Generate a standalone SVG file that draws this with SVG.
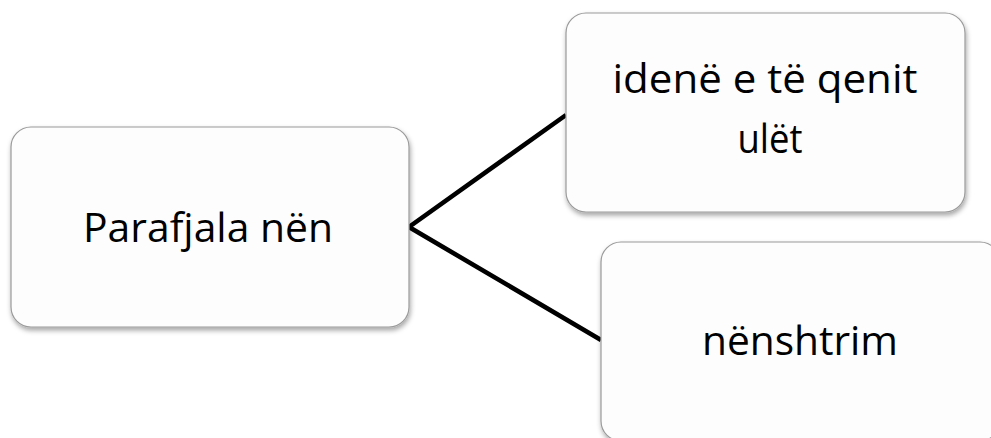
<svg xmlns="http://www.w3.org/2000/svg" width="991" height="438" viewBox="0 0 991 438">
  <defs>
    <filter id="shadow" x="-10%" y="-10%" width="125%" height="130%">
      <feDropShadow dx="1" dy="3" stdDeviation="2.5" flood-color="#000" flood-opacity="0.35"/>
    </filter>
    <style>
      .box { fill: #fdfdfd; stroke: #9a9a9a; stroke-width: 1.2; filter: url(#shadow); }
      .label { font-family: "Open Sans", "Noto Sans", "Liberation Sans", sans-serif; font-size: 40px; fill: #000; text-anchor: middle; }
      .link { fill: none; stroke: #000; stroke-width: 4.6; stroke-linejoin: miter; }
    </style>
  </defs>
  <rect width="991" height="438" fill="#fff"/>

  <g id="connectors">
    <polyline class="link" points="566,115 409,227 601,340"/>
  </g>

  <g id="node-parafjala">
    <rect class="box" x="11" y="127" width="398" height="200" rx="20" ry="20"/>
    <text class="label" x="208" y="242" textLength="250" lengthAdjust="spacingAndGlyphs">Parafjala nën</text>
  </g>

  <g id="node-idene">
    <rect class="box" x="566" y="13" width="399" height="199" rx="20" ry="20"/>
    <text class="label" x="765" y="93" textLength="305" lengthAdjust="spacingAndGlyphs">idenë e të qenit</text>
    <text class="label" x="770" y="153" textLength="65" lengthAdjust="spacingAndGlyphs">ulët</text>
  </g>

  <g id="node-nenshtrim">
    <rect class="box" x="601" y="242" width="399" height="199" rx="20" ry="20"/>
    <text class="label" x="800" y="355" textLength="196" lengthAdjust="spacingAndGlyphs">nënshtrim</text>
  </g>
</svg>
